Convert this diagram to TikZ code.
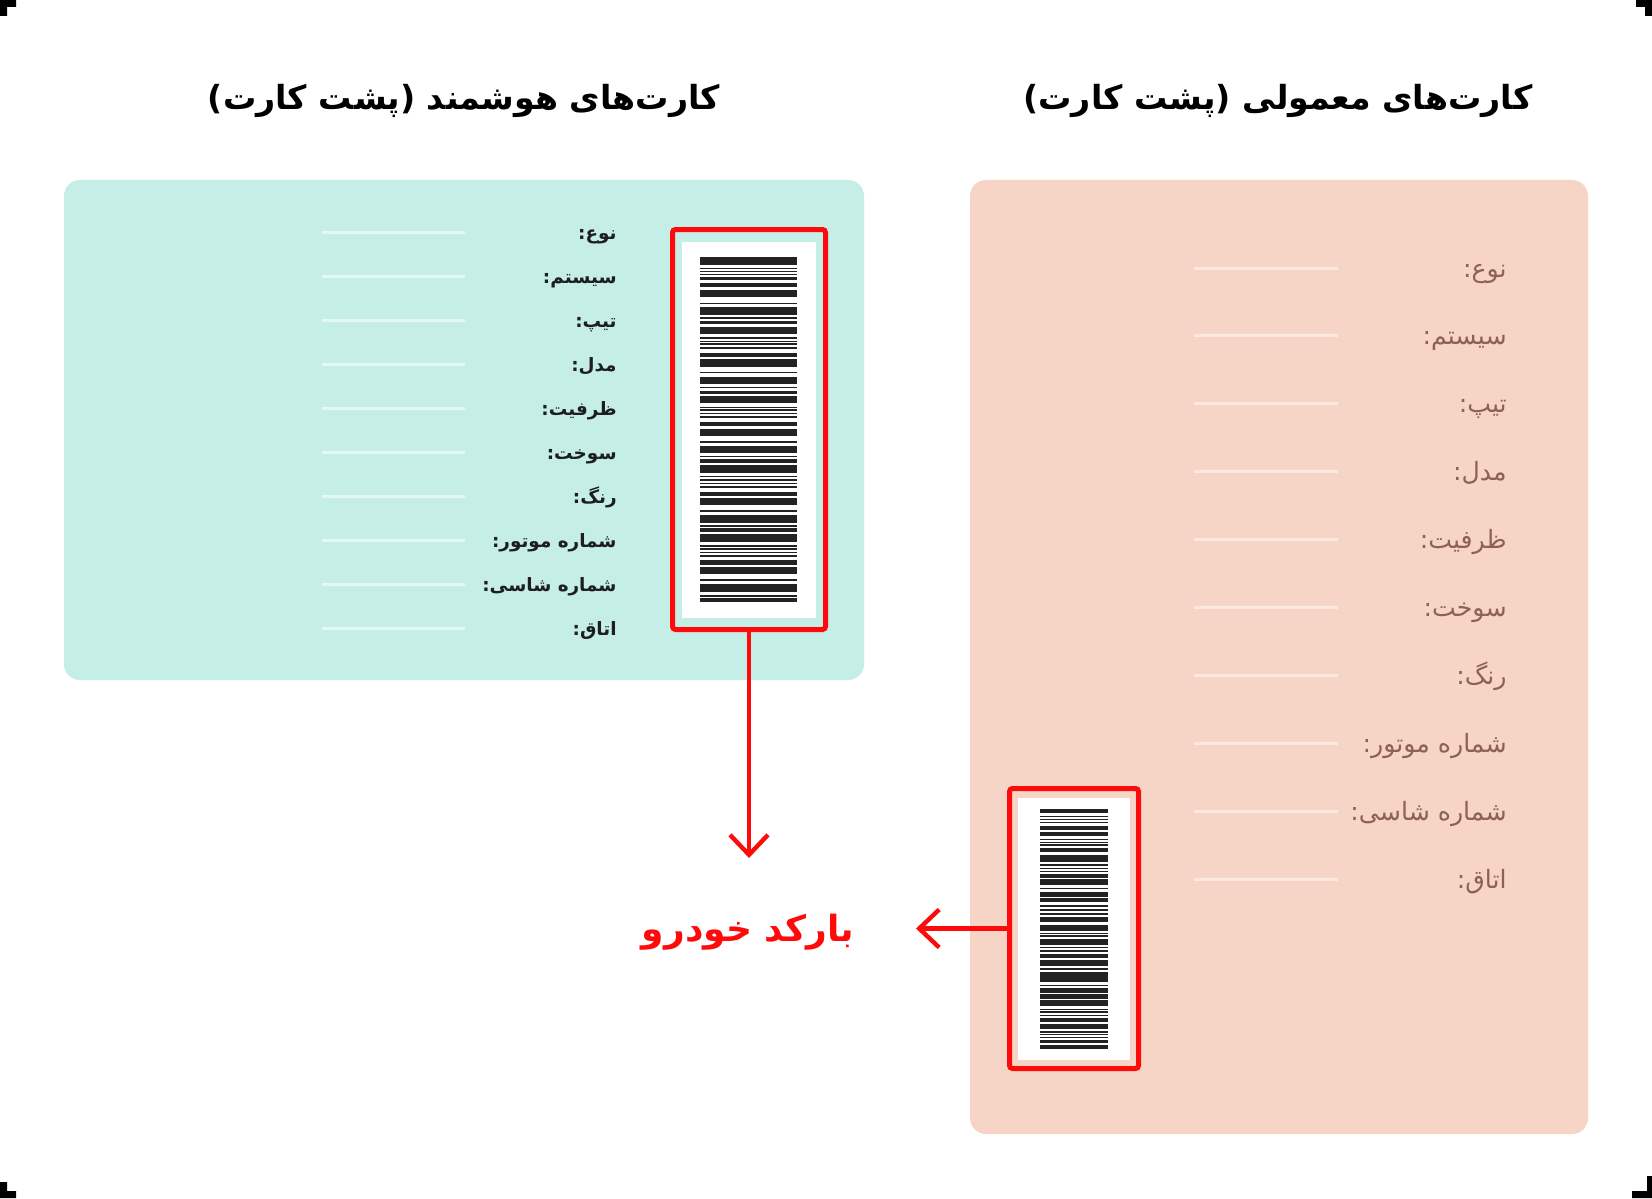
\documentclass[tikz,border=0pt]{standalone}
\usepackage{fontspec}
\usetikzlibrary{arrows.meta}
\TeXXeTstate=1
\newfontfamily\fa[Script=Arabic]{DejaVu Sans}
\definecolor{tealcard}{HTML}{C4EEE6}
\definecolor{peachcard}{HTML}{F7D5C6}
\definecolor{tealline}{HTML}{E4F8F3}
\definecolor{peachline}{HTML}{FBE9E1}
\definecolor{labdark}{HTML}{1E1E1E}
\definecolor{labbrown}{HTML}{8E6253}
\definecolor{redmark}{HTML}{FF0A0A}
\definecolor{barc}{HTML}{232323}
\begin{document}
\begin{tikzpicture}[x=0.5pt,y=-0.5pt,
  card/.style={rounded corners=8pt},
  titletext/.style={font=\fa\bfseries\fontsize{16.6}{20}\selectfont, text=black, inner sep=0},
  labS/.style={font=\fa\bfseries\fontsize{9.2}{11}\selectfont, text=labdark, anchor=base east, inner sep=0},
  labN/.style={font=\fa\fontsize{12.6}{15}\selectfont, text=labbrown, anchor=base east, inner sep=0},
  tline/.style={line width=1.5pt, tealline},
  pline/.style={line width=1.5pt, peachline},
  redbox/.style={draw=redmark, line width=2.5pt, rounded corners=1.5pt, inner sep=0},
  redarrow/.style={draw=redmark, line width=2.2pt, -{Straight Barb[length=10pt,width=19pt,line width=2.2pt]}},
  bartext/.style={font=\fa\bfseries\fontsize{18}{22}\selectfont, text=redmark, inner sep=0},
  corner/.style={fill=black}
]
\useasboundingbox (0,0) rectangle (1652,1198);
\fill[white] (0,0) rectangle (1652,1198);
% corner marks
\fill[corner] (0,0) -- (16,0) -- (16,7) -- (7,7) -- (7,16) -- (0,16) -- cycle;
\fill[corner] (1652,0) -- (1636,0) -- (1636,7) -- (1645,7) -- (1645,16) -- (1652,16) -- cycle;
\fill[corner] (0,1198) -- (16,1198) -- (16,1191) -- (7,1191) -- (7,1182) -- (0,1182) -- cycle;
\fill[corner] (1652,1198) -- (1632,1198) -- (1632,1191) -- (1647,1191) -- (1647,1176) -- (1652,1176) -- cycle;

% titles
\node[titletext] (tleft) at (464,101) {\fa\beginR کارت‌های هوشمند (پشت کارت)\endR};
\node[titletext] (tright) at (1278,101) {\fa\beginR کارت‌های معمولی (پشت کارت)\endR};

% cards
\fill[card, tealcard] (64,180) rectangle (864,680);
\fill[card, peachcard] (970,180) rectangle (1588,1134);

% left card labels
\foreach \t [count=\i from 0] in {نوع:,سیستم:,تیپ:,مدل:,ظرفیت:,سوخت:,رنگ:,شماره موتور:,شماره شاسی:,اتاق:} {
  \pgfmathsetmacro\yy{232+44*\i}
  \node[labS] (sl\i) at (617,\yy+7) {\beginR\t\endR};
  \draw[tline] (322,\yy) -- (465,\yy);
}
% right card labels
\foreach \t [count=\i from 0] in {نوع:,سیستم:,تیپ:,مدل:,ظرفیت:,سوخت:,رنگ:,شماره موتور:,شماره شاسی:,اتاق:} {
  \pgfmathsetmacro\yy{268+67.9*\i}
  \node[labN] (nl\i) at (1507,\yy+9) {\beginR\t\endR};
  \draw[pline] (1194,\yy) -- (1338,\yy);
}

% left barcode
\fill[white] (682,242) rectangle (816,618);
\foreach \a/\b in {172/195,205/208,213/216,222/226,231/240,250/262,270/292,308/313,322/345,352/357,362/372,380/402,412/416,422/426,430/434,440/446,458/470,478/500,515/520,530/553,560/565,572/582,588/610,620/624,628/632,638/642,648/654,665/678,686/708,722/728,738/760,768/772,778/788,796/818,828/832,838/842,848/852,858/864,875/888,893/915,930/935,945/968,975/980,985/997,1003/1025,1035/1040,1045/1050,1055/1060,1065/1070,1080/1095,1100/1122,1138/1143,1152/1175,1185/1190,1195/1207}
  \fill[barc] (700,200+\a/3) rectangle (797,200+\b/3);
\node[redbox, minimum width=76.5pt, minimum height=200pt] (lbox) at (749,429.5) {};

% right barcode
\fill[white] (1018,798) rectangle (1130,1060);
\foreach \a/\b in {508/522,530/534,540/543,548/552,560/574,578/592,600/604,610/612,616/620,628/640,648/668,676/680,686/690,696/700,706/718,722/740,748/752,760/774,778/790,800/806,812/816,822/828,836/850,858/876,882/886,890/894,900/920,926/930,936/942,948/960,966/984,990/994,1000/1030,1040/1044,1050/1064,1068/1082,1086/1104,1112/1116,1120/1124,1130/1134,1140/1152,1158/1172,1180/1184,1188/1192,1196/1200,1206/1216,1222/1232}
  \fill[barc] (1040,640+\a/3.015) rectangle (1108,640+\b/3.015);
\node[redbox, minimum width=64.5pt, minimum height=140pt] (rbox) at (1074,928.5) {};

% label and arrows
\node[bartext] (blabel) at (748,932) {\fa\beginR بارکد خودرو\endR};
\coordinate (tipA) at (749,858);
\coordinate (tipB) at (916,928.5);
\draw[redarrow] (lbox.south) -- (tipA);
\draw[redarrow] (rbox.west) -- (tipB);
\end{tikzpicture}
\end{document}
